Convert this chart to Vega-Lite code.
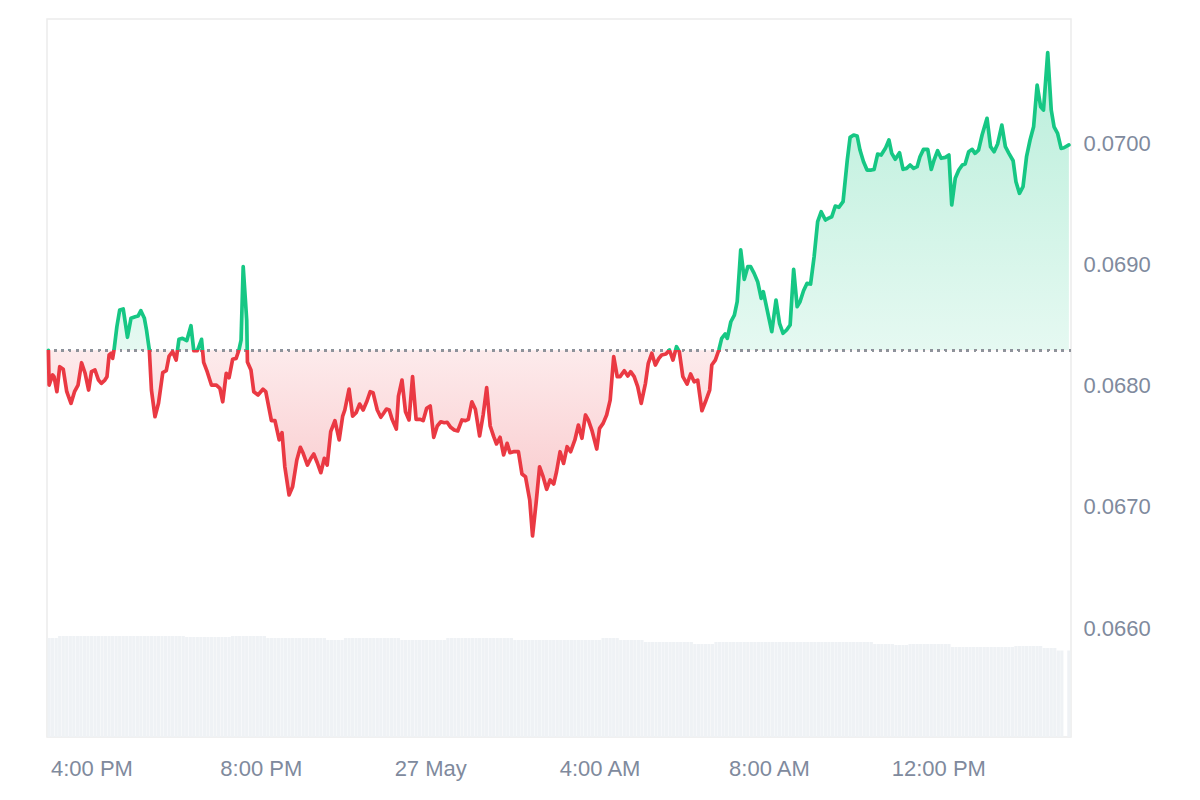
{
  "$schema": "https://vega.github.io/schema/vega-lite/v6.json",
  "width": 1024,
  "height": 718,
  "autosize": "none",
  "padding": {"left": 47, "top": 19, "right": 129, "bottom": 63},
  "background": "white",
  "config": {
    "view": {"stroke": "#ececec", "strokeWidth": 1.5},
    "font": "Liberation Sans",
    "axis": {"labelFont": "Liberation Sans"}
  },
  "datasets": {
    "price": [
      {"t":"2024-05-26T14:59","p":0.06829},{"t":"2024-05-26T15:00","p":0.068004},{"t":"2024-05-26T15:05","p":0.068087},{"t":"2024-05-26T15:07","p":0.068073},{"t":"2024-05-26T15:11","p":0.067949},{"t":"2024-05-26T15:15","p":0.068155},{"t":"2024-05-26T15:20","p":0.068134},{"t":"2024-05-26T15:25","p":0.067949},{"t":"2024-05-26T15:31","p":0.067853},{"t":"2024-05-26T15:36","p":0.067949},{"t":"2024-05-26T15:41","p":0.068004},{"t":"2024-05-26T15:46","p":0.068188},{"t":"2024-05-26T15:51","p":0.068101},{"t":"2024-05-26T15:56","p":0.067963},{"t":"2024-05-26T16:00","p":0.068114},{"t":"2024-05-26T16:05","p":0.068128},{"t":"2024-05-26T16:10","p":0.068045},{"t":"2024-05-26T16:14","p":0.068018},{"t":"2024-05-26T16:19","p":0.068045},{"t":"2024-05-26T16:22","p":0.068073},{"t":"2024-05-26T16:25","p":0.068252},{"t":"2024-05-26T16:28","p":0.068266},{"t":"2024-05-26T16:30","p":0.068224},{"t":"2024-05-26T16:32","p":0.068293},{"t":"2024-05-26T16:36","p":0.068485},{"t":"2024-05-26T16:40","p":0.068623},{"t":"2024-05-26T16:45","p":0.068631},{"t":"2024-05-26T16:51","p":0.068398},{"t":"2024-05-26T16:56","p":0.068554},{"t":"2024-05-26T17:02","p":0.068567},{"t":"2024-05-26T17:06","p":0.068573},{"t":"2024-05-26T17:10","p":0.068617},{"t":"2024-05-26T17:15","p":0.068554},{"t":"2024-05-26T17:18","p":0.068458},{"t":"2024-05-26T17:22","p":0.068293},{"t":"2024-05-26T17:25","p":0.067963},{"t":"2024-05-26T17:30","p":0.067743},{"t":"2024-05-26T17:35","p":0.067853},{"t":"2024-05-26T17:41","p":0.068106},{"t":"2024-05-26T17:46","p":0.068122},{"t":"2024-05-26T17:50","p":0.068243},{"t":"2024-05-26T17:55","p":0.068279},{"t":"2024-05-26T18:00","p":0.06821},{"t":"2024-05-26T18:04","p":0.068381},{"t":"2024-05-26T18:09","p":0.068389},{"t":"2024-05-26T18:15","p":0.06837},{"t":"2024-05-26T18:21","p":0.068493},{"t":"2024-05-26T18:25","p":0.068287},{"t":"2024-05-26T18:30","p":0.068287},{"t":"2024-05-26T18:36","p":0.068381},{"t":"2024-05-26T18:39","p":0.068191},{"t":"2024-05-26T18:44","p":0.068114},{"t":"2024-05-26T18:50","p":0.068004},{"t":"2024-05-26T18:57","p":0.068004},{"t":"2024-05-26T19:02","p":0.067977},{"t":"2024-05-26T19:06","p":0.067866},{"t":"2024-05-26T19:11","p":0.068101},{"t":"2024-05-26T19:15","p":0.068064},{"t":"2024-05-26T19:20","p":0.068216},{"t":"2024-05-26T19:25","p":0.068224},{"t":"2024-05-26T19:29","p":0.068293},{"t":"2024-05-26T19:32","p":0.068375},{"t":"2024-05-26T19:35","p":0.06898},{"t":"2024-05-26T19:40","p":0.06854},{"t":"2024-05-26T19:41","p":0.068194},{"t":"2024-05-26T19:46","p":0.068128},{"t":"2024-05-26T19:50","p":0.067949},{"t":"2024-05-26T19:56","p":0.067922},{"t":"2024-05-26T20:03","p":0.067969},{"t":"2024-05-26T20:07","p":0.067949},{"t":"2024-05-26T20:15","p":0.06771},{"t":"2024-05-26T20:20","p":0.06771},{"t":"2024-05-26T20:26","p":0.067551},{"t":"2024-05-26T20:30","p":0.067611},{"t":"2024-05-26T20:34","p":0.06733},{"t":"2024-05-26T20:40","p":0.067097},{"t":"2024-05-26T20:45","p":0.067165},{"t":"2024-05-26T20:51","p":0.067386},{"t":"2024-05-26T20:56","p":0.06749},{"t":"2024-05-26T21:00","p":0.067441},{"t":"2024-05-26T21:06","p":0.067344},{"t":"2024-05-26T21:11","p":0.0674},{"t":"2024-05-26T21:15","p":0.067435},{"t":"2024-05-26T21:20","p":0.067363},{"t":"2024-05-26T21:25","p":0.067281},{"t":"2024-05-26T21:30","p":0.0674},{"t":"2024-05-26T21:34","p":0.067344},{"t":"2024-05-26T21:39","p":0.067619},{"t":"2024-05-26T21:45","p":0.06771},{"t":"2024-05-26T21:51","p":0.067551},{"t":"2024-05-26T21:56","p":0.067748},{"t":"2024-05-26T21:59","p":0.067798},{"t":"2024-05-26T22:05","p":0.067971},{"t":"2024-05-26T22:10","p":0.067748},{"t":"2024-05-26T22:15","p":0.067776},{"t":"2024-05-26T22:20","p":0.067847},{"t":"2024-05-26T22:25","p":0.067798},{"t":"2024-05-26T22:30","p":0.067866},{"t":"2024-05-26T22:35","p":0.067949},{"t":"2024-05-26T22:39","p":0.067941},{"t":"2024-05-26T22:45","p":0.067798},{"t":"2024-05-26T22:50","p":0.067738},{"t":"2024-05-26T22:54","p":0.067771},{"t":"2024-05-26T22:58","p":0.067806},{"t":"2024-05-26T23:02","p":0.067798},{"t":"2024-05-26T23:06","p":0.067721},{"t":"2024-05-26T23:12","p":0.067641},{"t":"2024-05-26T23:15","p":0.067913},{"t":"2024-05-26T23:20","p":0.068045},{"t":"2024-05-26T23:25","p":0.067784},{"t":"2024-05-26T23:30","p":0.067716},{"t":"2024-05-26T23:35","p":0.068073},{"t":"2024-05-26T23:40","p":0.067721},{"t":"2024-05-26T23:46","p":0.067721},{"t":"2024-05-26T23:50","p":0.06771},{"t":"2024-05-26T23:55","p":0.067812},
      {"t":"2024-05-27T00:00","p":0.067831},{"t":"2024-05-27T00:05","p":0.067573},{"t":"2024-05-27T00:10","p":0.067666},{"t":"2024-05-27T00:15","p":0.067701},{"t":"2024-05-27T00:20","p":0.067693},{"t":"2024-05-27T00:24","p":0.067697},{"t":"2024-05-27T00:29","p":0.067655},{"t":"2024-05-27T00:34","p":0.067633},{"t":"2024-05-27T00:39","p":0.067625},{"t":"2024-05-27T00:45","p":0.067716},{"t":"2024-05-27T00:50","p":0.06771},{"t":"2024-05-27T00:54","p":0.067721},{"t":"2024-05-27T00:59","p":0.067866},{"t":"2024-05-27T01:04","p":0.067804},{"t":"2024-05-27T01:10","p":0.067584},{"t":"2024-05-27T01:15","p":0.067757},{"t":"2024-05-27T01:20","p":0.067982},{"t":"2024-05-27T01:25","p":0.067666},{"t":"2024-05-27T01:30","p":0.067578},{"t":"2024-05-27T01:34","p":0.067518},{"t":"2024-05-27T01:39","p":0.067573},{"t":"2024-05-27T01:44","p":0.067427},{"t":"2024-05-27T01:49","p":0.067523},{"t":"2024-05-27T01:53","p":0.067446},{"t":"2024-05-27T01:58","p":0.067454},{"t":"2024-05-27T02:05","p":0.067454},{"t":"2024-05-27T02:10","p":0.06727},{"t":"2024-05-27T02:15","p":0.067248},{"t":"2024-05-27T02:21","p":0.067056},{"t":"2024-05-27T02:25","p":0.066759},{"t":"2024-05-27T02:30","p":0.067029},{"t":"2024-05-27T02:35","p":0.06733},{"t":"2024-05-27T02:40","p":0.067248},{"t":"2024-05-27T02:45","p":0.067144},{"t":"2024-05-27T02:50","p":0.067221},{"t":"2024-05-27T02:55","p":0.067188},{"t":"2024-05-27T02:59","p":0.067289},{"t":"2024-05-27T03:04","p":0.067454},{"t":"2024-05-27T03:09","p":0.067358},{"t":"2024-05-27T03:14","p":0.067495},{"t":"2024-05-27T03:19","p":0.067454},{"t":"2024-05-27T03:25","p":0.067551},{"t":"2024-05-27T03:30","p":0.067674},{"t":"2024-05-27T03:35","p":0.067565},{"t":"2024-05-27T03:40","p":0.067757},{"t":"2024-05-27T03:44","p":0.067716},{"t":"2024-05-27T03:49","p":0.067633},{"t":"2024-05-27T03:56","p":0.067476},{"t":"2024-05-27T04:00","p":0.067647},{"t":"2024-05-27T04:05","p":0.067688},{"t":"2024-05-27T04:10","p":0.067757},{"t":"2024-05-27T04:15","p":0.06788},{"t":"2024-05-27T04:20","p":0.068238},{"t":"2024-05-27T04:25","p":0.068073},{"t":"2024-05-27T04:29","p":0.068073},{"t":"2024-05-27T04:35","p":0.068122},{"t":"2024-05-27T04:40","p":0.068078},{"t":"2024-05-27T04:44","p":0.068114},{"t":"2024-05-27T04:49","p":0.068073},{"t":"2024-05-27T04:54","p":0.06799},{"t":"2024-05-27T04:59","p":0.067853},{"t":"2024-05-27T05:05","p":0.068018},{"t":"2024-05-27T05:09","p":0.068183},{"t":"2024-05-27T05:14","p":0.068266},{"t":"2024-05-27T05:19","p":0.068169},{"t":"2024-05-27T05:24","p":0.068224},{"t":"2024-05-27T05:28","p":0.068252},{"t":"2024-05-27T05:34","p":0.06826},{"t":"2024-05-27T05:39","p":0.068293},{"t":"2024-05-27T05:44","p":0.06821},{"t":"2024-05-27T05:49","p":0.06832},{"t":"2024-05-27T05:53","p":0.068279},{"t":"2024-05-27T05:58","p":0.068073},{"t":"2024-05-27T06:04","p":0.068012},{"t":"2024-05-27T06:09","p":0.068095},{"t":"2024-05-27T06:14","p":0.068031},{"t":"2024-05-27T06:19","p":0.068045},{"t":"2024-05-27T06:25","p":0.067792},{"t":"2024-05-27T06:30","p":0.067866},{"t":"2024-05-27T06:36","p":0.067963},{"t":"2024-05-27T06:39","p":0.068169},{"t":"2024-05-27T06:44","p":0.06821},{"t":"2024-05-27T06:49","p":0.068293},{"t":"2024-05-27T06:53","p":0.068389},{"t":"2024-05-27T06:58","p":0.068425},{"t":"2024-05-27T07:01","p":0.068389},{"t":"2024-05-27T07:06","p":0.068526},{"t":"2024-05-27T07:11","p":0.068581},{"t":"2024-05-27T07:15","p":0.068691},{"t":"2024-05-27T07:20","p":0.069118},{"t":"2024-05-27T07:25","p":0.068876},{"t":"2024-05-27T07:30","p":0.06898},{"t":"2024-05-27T07:34","p":0.06898},{"t":"2024-05-27T07:39","p":0.068925},{"t":"2024-05-27T07:44","p":0.068856},{"t":"2024-05-27T07:49","p":0.068719},{"t":"2024-05-27T07:52","p":0.068774},{"t":"2024-05-27T07:57","p":0.068637},{"t":"2024-05-27T08:04","p":0.068444},{"t":"2024-05-27T08:10","p":0.068705},{"t":"2024-05-27T08:15","p":0.068513},{"t":"2024-05-27T08:20","p":0.068431},{"t":"2024-05-27T08:25","p":0.068458},{"t":"2024-05-27T08:30","p":0.068499},{"t":"2024-05-27T08:35","p":0.068958},{"t":"2024-05-27T08:40","p":0.06865},{"t":"2024-05-27T08:44","p":0.068691},{"t":"2024-05-27T08:49","p":0.068782},{"t":"2024-05-27T08:54","p":0.068843},{"t":"2024-05-27T08:59","p":0.068837},{"t":"2024-05-27T09:04","p":0.069062},{"t":"2024-05-27T09:09","p":0.069351},{"t":"2024-05-27T09:14","p":0.069433},{"t":"2024-05-27T09:20","p":0.069365},{"t":"2024-05-27T09:24","p":0.069379},{"t":"2024-05-27T09:29","p":0.069392},{"t":"2024-05-27T09:34","p":0.06948},{"t":"2024-05-27T09:39","p":0.06947},{"t":"2024-05-27T09:45","p":0.069516},{"t":"2024-05-27T09:51","p":0.06986},{"t":"2024-05-27T09:55","p":0.070047},{"t":"2024-05-27T10:00","p":0.070066},{"t":"2024-05-27T10:05","p":0.070058},{"t":"2024-05-27T10:09","p":0.069942},{"t":"2024-05-27T10:14","p":0.069846},{"t":"2024-05-27T10:19","p":0.069777},{"t":"2024-05-27T10:25","p":0.069777},{"t":"2024-05-27T10:29","p":0.069783},{"t":"2024-05-27T10:34","p":0.069909},{"t":"2024-05-27T10:39","p":0.069901},{"t":"2024-05-27T10:45","p":0.069956},{"t":"2024-05-27T10:50","p":0.070025},{"t":"2024-05-27T10:54","p":0.069915},{"t":"2024-05-27T10:59","p":0.069866},{"t":"2024-05-27T11:05","p":0.06992},{"t":"2024-05-27T11:10","p":0.069783},{"t":"2024-05-27T11:15","p":0.069791},{"t":"2024-05-27T11:20","p":0.069819},{"t":"2024-05-27T11:25","p":0.069791},{"t":"2024-05-27T11:30","p":0.069805},{"t":"2024-05-27T11:34","p":0.069887},{"t":"2024-05-27T11:39","p":0.069948},{"t":"2024-05-27T11:45","p":0.069948},{"t":"2024-05-27T11:50","p":0.069783},{"t":"2024-05-27T11:54","p":0.06986},{"t":"2024-05-27T11:59","p":0.069937},{"t":"2024-05-27T12:04","p":0.069874},{"t":"2024-05-27T12:10","p":0.069882},{"t":"2024-05-27T12:15","p":0.069901},{"t":"2024-05-27T12:19","p":0.069489},{"t":"2024-05-27T12:24","p":0.069709},{"t":"2024-05-27T12:29","p":0.069777},{"t":"2024-05-27T12:34","p":0.069819},{"t":"2024-05-27T12:38","p":0.069827},{"t":"2024-05-27T12:43","p":0.069928},{"t":"2024-05-27T12:48","p":0.069948},{"t":"2024-05-27T12:52","p":0.069915},{"t":"2024-05-27T12:57","p":0.069942},{"t":"2024-05-27T13:02","p":0.070066},{"t":"2024-05-27T13:09","p":0.070204},{"t":"2024-05-27T13:14","p":0.06997},{"t":"2024-05-27T13:19","p":0.069928},{"t":"2024-05-27T13:24","p":0.069992},{"t":"2024-05-27T13:30","p":0.070148},{"t":"2024-05-27T13:35","p":0.06997},{"t":"2024-05-27T13:40","p":0.069915},{"t":"2024-05-27T13:46","p":0.069854},{"t":"2024-05-27T13:50","p":0.069681},{"t":"2024-05-27T13:55","p":0.069585},{"t":"2024-05-27T14:00","p":0.06964},{"t":"2024-05-27T14:05","p":0.069887},{"t":"2024-05-27T14:10","p":0.070025},{"t":"2024-05-27T14:15","p":0.070134},{"t":"2024-05-27T14:20","p":0.070478},{"t":"2024-05-27T14:25","p":0.070299},{"t":"2024-05-27T14:29","p":0.070272},{"t":"2024-05-27T14:35","p":0.070745},{"t":"2024-05-27T14:40","p":0.070272},{"t":"2024-05-27T14:44","p":0.070134},{"t":"2024-05-27T14:49","p":0.07008},{"t":"2024-05-27T14:54","p":0.069956},{"t":"2024-05-27T14:58","p":0.069961},{"t":"2024-05-27T15:05","p":0.069984}
    ],
    "vol": [
      {"t":"2024-05-26T15:00","v":9.9},{"t":"2024-05-26T15:05","v":9.9},{"t":"2024-05-26T15:10","v":9.9},{"t":"2024-05-26T15:15","v":10.1},{"t":"2024-05-26T15:20","v":10.1},{"t":"2024-05-26T15:25","v":10.1},{"t":"2024-05-26T15:30","v":10.1},{"t":"2024-05-26T15:35","v":10.1},{"t":"2024-05-26T15:40","v":10.1},{"t":"2024-05-26T15:45","v":10.1},{"t":"2024-05-26T15:50","v":10.1},{"t":"2024-05-26T15:55","v":10.1},
      {"t":"2024-05-26T16:00","v":10.1},{"t":"2024-05-26T16:05","v":10.1},{"t":"2024-05-26T16:10","v":10.1},{"t":"2024-05-26T16:15","v":10.1},{"t":"2024-05-26T16:20","v":10.1},{"t":"2024-05-26T16:25","v":10.1},{"t":"2024-05-26T16:30","v":10.1},{"t":"2024-05-26T16:35","v":10.1},{"t":"2024-05-26T16:40","v":10.1},{"t":"2024-05-26T16:45","v":10.1},{"t":"2024-05-26T16:50","v":10.1},{"t":"2024-05-26T16:55","v":10.1},
      {"t":"2024-05-26T17:00","v":10.1},{"t":"2024-05-26T17:05","v":10.1},{"t":"2024-05-26T17:10","v":10.1},{"t":"2024-05-26T17:15","v":10.1},{"t":"2024-05-26T17:20","v":10.1},{"t":"2024-05-26T17:25","v":10.1},{"t":"2024-05-26T17:30","v":10.1},{"t":"2024-05-26T17:35","v":10.1},{"t":"2024-05-26T17:40","v":10.1},{"t":"2024-05-26T17:45","v":10.1},{"t":"2024-05-26T17:50","v":10.1},{"t":"2024-05-26T17:55","v":10.1},
      {"t":"2024-05-26T18:00","v":10.1},{"t":"2024-05-26T18:05","v":10.1},{"t":"2024-05-26T18:10","v":10.1},{"t":"2024-05-26T18:15","v":10.0},{"t":"2024-05-26T18:20","v":10.0},{"t":"2024-05-26T18:25","v":10.0},{"t":"2024-05-26T18:30","v":10.0},{"t":"2024-05-26T18:35","v":10.0},{"t":"2024-05-26T18:40","v":10.0},{"t":"2024-05-26T18:45","v":10.0},{"t":"2024-05-26T18:50","v":10.0},{"t":"2024-05-26T18:55","v":10.0},
      {"t":"2024-05-26T19:00","v":10.0},{"t":"2024-05-26T19:05","v":10.0},{"t":"2024-05-26T19:10","v":10.0},{"t":"2024-05-26T19:15","v":10.0},{"t":"2024-05-26T19:20","v":10.1},{"t":"2024-05-26T19:25","v":10.1},{"t":"2024-05-26T19:30","v":10.1},{"t":"2024-05-26T19:35","v":10.1},{"t":"2024-05-26T19:40","v":10.1},{"t":"2024-05-26T19:45","v":10.1},{"t":"2024-05-26T19:50","v":10.1},{"t":"2024-05-26T19:55","v":10.1},
      {"t":"2024-05-26T20:00","v":10.1},{"t":"2024-05-26T20:05","v":10.1},{"t":"2024-05-26T20:10","v":9.9},{"t":"2024-05-26T20:15","v":9.9},{"t":"2024-05-26T20:20","v":9.9},{"t":"2024-05-26T20:25","v":9.9},{"t":"2024-05-26T20:30","v":9.9},{"t":"2024-05-26T20:35","v":9.9},{"t":"2024-05-26T20:40","v":9.9},{"t":"2024-05-26T20:45","v":9.9},{"t":"2024-05-26T20:50","v":9.9},{"t":"2024-05-26T20:55","v":9.9},
      {"t":"2024-05-26T21:00","v":9.9},{"t":"2024-05-26T21:05","v":9.9},{"t":"2024-05-26T21:10","v":9.9},{"t":"2024-05-26T21:15","v":9.9},{"t":"2024-05-26T21:20","v":9.9},{"t":"2024-05-26T21:25","v":9.9},{"t":"2024-05-26T21:30","v":9.9},{"t":"2024-05-26T21:35","v":9.7},{"t":"2024-05-26T21:40","v":9.7},{"t":"2024-05-26T21:45","v":9.7},{"t":"2024-05-26T21:50","v":9.7},{"t":"2024-05-26T21:55","v":9.7},
      {"t":"2024-05-26T22:00","v":9.9},{"t":"2024-05-26T22:05","v":9.9},{"t":"2024-05-26T22:10","v":9.9},{"t":"2024-05-26T22:15","v":9.9},{"t":"2024-05-26T22:20","v":9.9},{"t":"2024-05-26T22:25","v":9.9},{"t":"2024-05-26T22:30","v":9.9},{"t":"2024-05-26T22:35","v":9.9},{"t":"2024-05-26T22:40","v":9.9},{"t":"2024-05-26T22:45","v":9.9},{"t":"2024-05-26T22:50","v":9.9},{"t":"2024-05-26T22:55","v":9.9},
      {"t":"2024-05-26T23:00","v":9.9},{"t":"2024-05-26T23:05","v":9.9},{"t":"2024-05-26T23:10","v":9.9},{"t":"2024-05-26T23:15","v":9.9},{"t":"2024-05-26T23:20","v":9.7},{"t":"2024-05-26T23:25","v":9.7},{"t":"2024-05-26T23:30","v":9.7},{"t":"2024-05-26T23:35","v":9.7},{"t":"2024-05-26T23:40","v":9.7},{"t":"2024-05-26T23:45","v":9.7},{"t":"2024-05-26T23:50","v":9.7},{"t":"2024-05-26T23:55","v":9.7},
      {"t":"2024-05-27T00:00","v":9.7},{"t":"2024-05-27T00:05","v":9.7},{"t":"2024-05-27T00:10","v":9.7},{"t":"2024-05-27T00:15","v":9.7},{"t":"2024-05-27T00:20","v":9.7},{"t":"2024-05-27T00:25","v":9.9},{"t":"2024-05-27T00:30","v":9.9},{"t":"2024-05-27T00:35","v":9.9},{"t":"2024-05-27T00:40","v":9.9},{"t":"2024-05-27T00:45","v":9.9},{"t":"2024-05-27T00:50","v":9.9},{"t":"2024-05-27T00:55","v":9.9},
      {"t":"2024-05-27T01:00","v":9.9},{"t":"2024-05-27T01:05","v":9.9},{"t":"2024-05-27T01:10","v":9.9},{"t":"2024-05-27T01:15","v":9.9},{"t":"2024-05-27T01:20","v":9.9},{"t":"2024-05-27T01:25","v":9.9},{"t":"2024-05-27T01:30","v":9.9},{"t":"2024-05-27T01:35","v":9.9},{"t":"2024-05-27T01:40","v":9.9},{"t":"2024-05-27T01:45","v":9.9},{"t":"2024-05-27T01:50","v":9.9},{"t":"2024-05-27T01:55","v":9.9},
      {"t":"2024-05-27T02:00","v":9.7},{"t":"2024-05-27T02:05","v":9.7},{"t":"2024-05-27T02:10","v":9.7},{"t":"2024-05-27T02:15","v":9.7},{"t":"2024-05-27T02:20","v":9.7},{"t":"2024-05-27T02:25","v":9.7},{"t":"2024-05-27T02:30","v":9.7},{"t":"2024-05-27T02:35","v":9.7},{"t":"2024-05-27T02:40","v":9.7},{"t":"2024-05-27T02:45","v":9.7},{"t":"2024-05-27T02:50","v":9.7},{"t":"2024-05-27T02:55","v":9.7},
      {"t":"2024-05-27T03:00","v":9.7},{"t":"2024-05-27T03:05","v":9.7},{"t":"2024-05-27T03:10","v":9.7},{"t":"2024-05-27T03:15","v":9.7},{"t":"2024-05-27T03:20","v":9.7},{"t":"2024-05-27T03:25","v":9.7},{"t":"2024-05-27T03:30","v":9.7},{"t":"2024-05-27T03:35","v":9.7},{"t":"2024-05-27T03:40","v":9.7},{"t":"2024-05-27T03:45","v":9.7},{"t":"2024-05-27T03:50","v":9.7},{"t":"2024-05-27T03:55","v":9.7},
      {"t":"2024-05-27T04:00","v":9.7},{"t":"2024-05-27T04:05","v":9.9},{"t":"2024-05-27T04:10","v":9.9},{"t":"2024-05-27T04:15","v":9.9},{"t":"2024-05-27T04:20","v":9.9},{"t":"2024-05-27T04:25","v":9.9},{"t":"2024-05-27T04:30","v":9.7},{"t":"2024-05-27T04:35","v":9.7},{"t":"2024-05-27T04:40","v":9.7},{"t":"2024-05-27T04:45","v":9.7},{"t":"2024-05-27T04:50","v":9.7},{"t":"2024-05-27T04:55","v":9.7},
      {"t":"2024-05-27T05:00","v":9.7},{"t":"2024-05-27T05:05","v":9.5},{"t":"2024-05-27T05:10","v":9.5},{"t":"2024-05-27T05:15","v":9.5},{"t":"2024-05-27T05:20","v":9.5},{"t":"2024-05-27T05:25","v":9.5},{"t":"2024-05-27T05:30","v":9.5},{"t":"2024-05-27T05:35","v":9.5},{"t":"2024-05-27T05:40","v":9.5},{"t":"2024-05-27T05:45","v":9.5},{"t":"2024-05-27T05:50","v":9.5},{"t":"2024-05-27T05:55","v":9.5},
      {"t":"2024-05-27T06:00","v":9.5},{"t":"2024-05-27T06:05","v":9.5},{"t":"2024-05-27T06:10","v":9.5},{"t":"2024-05-27T06:15","v":9.3},{"t":"2024-05-27T06:20","v":9.3},{"t":"2024-05-27T06:25","v":9.3},{"t":"2024-05-27T06:30","v":9.3},{"t":"2024-05-27T06:35","v":9.3},{"t":"2024-05-27T06:40","v":9.3},{"t":"2024-05-27T06:45","v":9.5},{"t":"2024-05-27T06:50","v":9.5},{"t":"2024-05-27T06:55","v":9.5},
      {"t":"2024-05-27T07:00","v":9.5},{"t":"2024-05-27T07:05","v":9.5},{"t":"2024-05-27T07:10","v":9.5},{"t":"2024-05-27T07:15","v":9.5},{"t":"2024-05-27T07:20","v":9.5},{"t":"2024-05-27T07:25","v":9.5},{"t":"2024-05-27T07:30","v":9.5},{"t":"2024-05-27T07:35","v":9.5},{"t":"2024-05-27T07:40","v":9.5},{"t":"2024-05-27T07:45","v":9.5},{"t":"2024-05-27T07:50","v":9.5},{"t":"2024-05-27T07:55","v":9.5},
      {"t":"2024-05-27T08:00","v":9.5},{"t":"2024-05-27T08:05","v":9.5},{"t":"2024-05-27T08:10","v":9.5},{"t":"2024-05-27T08:15","v":9.5},{"t":"2024-05-27T08:20","v":9.5},{"t":"2024-05-27T08:25","v":9.5},{"t":"2024-05-27T08:30","v":9.5},{"t":"2024-05-27T08:35","v":9.5},{"t":"2024-05-27T08:40","v":9.5},{"t":"2024-05-27T08:45","v":9.5},{"t":"2024-05-27T08:50","v":9.5},{"t":"2024-05-27T08:55","v":9.5},
      {"t":"2024-05-27T09:00","v":9.5},{"t":"2024-05-27T09:05","v":9.5},{"t":"2024-05-27T09:10","v":9.5},{"t":"2024-05-27T09:15","v":9.5},{"t":"2024-05-27T09:20","v":9.5},{"t":"2024-05-27T09:25","v":9.5},{"t":"2024-05-27T09:30","v":9.5},{"t":"2024-05-27T09:35","v":9.5},{"t":"2024-05-27T09:40","v":9.5},{"t":"2024-05-27T09:45","v":9.5},{"t":"2024-05-27T09:50","v":9.5},{"t":"2024-05-27T09:55","v":9.5},
      {"t":"2024-05-27T10:00","v":9.5},{"t":"2024-05-27T10:05","v":9.5},{"t":"2024-05-27T10:10","v":9.5},{"t":"2024-05-27T10:15","v":9.5},{"t":"2024-05-27T10:20","v":9.5},{"t":"2024-05-27T10:25","v":9.5},{"t":"2024-05-27T10:30","v":9.3},{"t":"2024-05-27T10:35","v":9.3},{"t":"2024-05-27T10:40","v":9.3},{"t":"2024-05-27T10:45","v":9.3},{"t":"2024-05-27T10:50","v":9.3},{"t":"2024-05-27T10:55","v":9.3},
      {"t":"2024-05-27T11:00","v":9.2},{"t":"2024-05-27T11:05","v":9.2},{"t":"2024-05-27T11:10","v":9.2},{"t":"2024-05-27T11:15","v":9.2},{"t":"2024-05-27T11:20","v":9.3},{"t":"2024-05-27T11:25","v":9.3},{"t":"2024-05-27T11:30","v":9.3},{"t":"2024-05-27T11:35","v":9.3},{"t":"2024-05-27T11:40","v":9.3},{"t":"2024-05-27T11:45","v":9.3},{"t":"2024-05-27T11:50","v":9.3},{"t":"2024-05-27T11:55","v":9.3},
      {"t":"2024-05-27T12:00","v":9.3},{"t":"2024-05-27T12:05","v":9.3},{"t":"2024-05-27T12:10","v":9.3},{"t":"2024-05-27T12:15","v":9.3},{"t":"2024-05-27T12:20","v":9.0},{"t":"2024-05-27T12:25","v":9.0},{"t":"2024-05-27T12:30","v":9.0},{"t":"2024-05-27T12:35","v":9.0},{"t":"2024-05-27T12:40","v":9.0},{"t":"2024-05-27T12:45","v":9.0},{"t":"2024-05-27T12:50","v":9.0},{"t":"2024-05-27T12:55","v":9.0},
      {"t":"2024-05-27T13:00","v":9.0},{"t":"2024-05-27T13:05","v":9.0},{"t":"2024-05-27T13:10","v":9.0},{"t":"2024-05-27T13:15","v":9.0},{"t":"2024-05-27T13:20","v":9.0},{"t":"2024-05-27T13:25","v":9.0},{"t":"2024-05-27T13:30","v":9.0},{"t":"2024-05-27T13:35","v":9.0},{"t":"2024-05-27T13:40","v":9.0},{"t":"2024-05-27T13:45","v":9.0},{"t":"2024-05-27T13:50","v":9.1},{"t":"2024-05-27T13:55","v":9.1},
      {"t":"2024-05-27T14:00","v":9.1},{"t":"2024-05-27T14:05","v":9.1},{"t":"2024-05-27T14:10","v":9.1},{"t":"2024-05-27T14:15","v":9.1},{"t":"2024-05-27T14:20","v":9.1},{"t":"2024-05-27T14:25","v":9.1},{"t":"2024-05-27T14:30","v":8.9},{"t":"2024-05-27T14:35","v":8.9},{"t":"2024-05-27T14:40","v":8.9},{"t":"2024-05-27T14:45","v":8.9},{"t":"2024-05-27T14:50","v":8.65},{"t":"2024-05-27T14:55","v":8.65},
      {"t":"2024-05-27T15:05","v":8.65}
    ]
  },
  "layer": [
    {
      "data": {"name": "vol"},
      "mark": {"type": "bar", "width": 3.2, "color": "#eff2f5"},
      "encoding": {
        "x": {
          "field": "t",
          "type": "temporal",
          "title": null,
          "scale": {"domain": [{"year": 2024, "month": 5, "date": 26, "hours": 14, "minutes": 57}, {"year": 2024, "month": 5, "date": 27, "hours": 15, "minutes": 8}], "padding": 0},
          "axis": {
            "values": [
              {"year": 2024, "month": 5, "date": 26, "hours": 16},
              {"year": 2024, "month": 5, "date": 26, "hours": 20},
              {"year": 2024, "month": 5, "date": 27, "hours": 0},
              {"year": 2024, "month": 5, "date": 27, "hours": 4},
              {"year": 2024, "month": 5, "date": 27, "hours": 8},
              {"year": 2024, "month": 5, "date": 27, "hours": 12}
            ],
            "labelExpr": "hours(datum.value) == 0 ? timeFormat(datum.value, '%-d %b') : timeFormat(datum.value, '%-I:%M %p')",
            "grid": false,
            "ticks": false,
            "domain": false,
            "labelPadding": 21,
            "labelFontSize": 22,
            "labelColor": "#808a9d",
            "labelFlush": false,
            "labelOverlap": false
          }
        },
        "y": {"field": "v", "type": "quantitative", "scale": {"domain": [0, 71.8]}, "axis": null}
      }
    },
    {
      "data": {"name": "price"},
      "encoding": {
        "y": {
          "field": "p",
          "type": "quantitative",
          "title": null,
          "scale": {"domain": [0.065101, 0.071023], "nice": false, "zero": false},
          "axis": {
            "orient": "right",
            "values": [0.066, 0.067, 0.068, 0.069, 0.07],
            "format": ".4f",
            "domain": false,
            "ticks": false,
            "labelPadding": 12,
            "labelFontSize": 22,
            "labelColor": "#808a9d",
            "gridColor": "#f0f0f0",
            "gridWidth": 2
          }
        }
      },
      "layer": [
        {
          "mark": {
            "type": "area",
            "fill": {
              "gradient": "linear", "x1": 0, "y1": 0, "x2": 0, "y2": 1,
              "stops": [
                {"offset": 0, "color": "rgba(22,199,132,0.30)"},
                {"offset": 0.6159, "color": "rgba(22,199,132,0.11)"},
                {"offset": 0.6159, "color": "rgba(234,57,67,0.10)"},
                {"offset": 1, "color": "rgba(234,57,67,0.30)"}
              ]
            }
          },
          "encoding": {
            "x": {"field": "t", "type": "temporal"},
            "y2": {"datum": 0.06829}
          }
        },
        {
          "mark": {"type": "rule", "strokeDash": [2, 5.3], "color": "#8e929a", "strokeWidth": 1.6},
          "encoding": {"y": {"datum": 0.06829}}
        },
        {
          "mark": {
            "type": "line",
            "strokeWidth": 3.7,
            "strokeJoin": "round",
            "strokeCap": "round",
            "stroke": {
              "gradient": "linear", "x1": 0, "y1": 0, "x2": 0, "y2": 1,
              "stops": [
                {"offset": 0, "color": "#16c784"},
                {"offset": 0.6159, "color": "#16c784"},
                {"offset": 0.6159, "color": "#ea3943"},
                {"offset": 1, "color": "#ea3943"}
              ]
            }
          },
          "encoding": {
            "x": {"field": "t", "type": "temporal"}
          }
        }
      ]
    }
  ],
  "resolve": {"scale": {"y": "independent"}}
}
